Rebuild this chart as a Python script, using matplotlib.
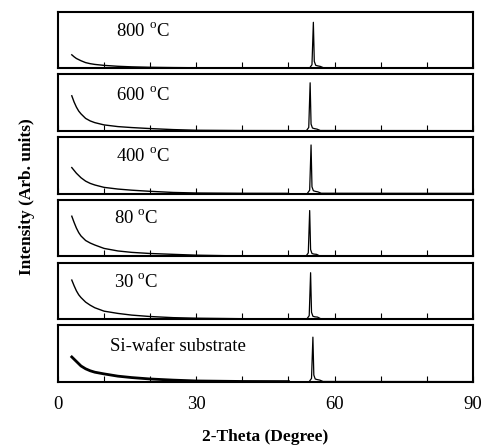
import matplotlib
matplotlib.use("Agg")
import matplotlib.pyplot as plt

plt.rcParams["font.family"] = ["Liberation Serif", "DejaVu Serif"]
plt.rcParams["mathtext.fontset"] = "custom"
plt.rcParams["mathtext.rm"] = "Liberation Serif"

# Panel labels, top to bottom
labels = ["800 $^{\\rm o}$C", "600 $^{\\rm o}$C", "400 $^{\\rm o}$C",
          "80 $^{\\rm o}$C", "30 $^{\\rm o}$C", "Si-wafer substrate"]

# Low-angle background (normalised to panel height)
bg_theta = [3, 3.5, 4, 4.5, 5, 6, 7, 8, 10, 13, 16, 20, 25, 30, 40, 50]
bg_800 = [0.235, 0.20, 0.17, 0.15, 0.13, 0.097, 0.078, 0.065, 0.048, 0.032, 0.022, 0.014, 0.009, 0.006, 0.004, 0.004]
bg_600 = [0.62, 0.51, 0.42, 0.35, 0.30, 0.22, 0.175, 0.145, 0.105, 0.075, 0.058, 0.04, 0.022, 0.01, 0.005, 0.004]
bg_400 = [0.46, 0.41, 0.36, 0.32, 0.28, 0.22, 0.18, 0.152, 0.11, 0.08, 0.06, 0.04, 0.02, 0.01, 0.005, 0.004]
bg_80 = [0.71, 0.60, 0.50, 0.42, 0.36, 0.28, 0.235, 0.20, 0.14, 0.095, 0.07, 0.05, 0.035, 0.02, 0.006, 0.004]
bg_30 = [0.69, 0.59, 0.50, 0.43, 0.38, 0.30, 0.245, 0.20, 0.14, 0.10, 0.07, 0.045, 0.025, 0.015, 0.006, 0.004]
bg_si = [0.44, 0.40, 0.36, 0.32, 0.28, 0.23, 0.195, 0.17, 0.14, 0.10, 0.075, 0.05, 0.03, 0.015, 0.006, 0.004]
backgrounds = [bg_800, bg_600, bg_400, bg_80, bg_30, bg_si]

# Si peak near 55 deg for each panel
pk_theta_800 = [54.6, 55.1, 55.4, 55.6, 55.9, 56.3, 56.9, 57.6, 90]
pk_theta_600 = [53.9, 54.4, 54.7, 54.9, 55.2, 55.6, 56.2, 56.9, 90]
pk_theta_400 = [54.1, 54.6, 54.9, 55.1, 55.4, 55.8, 56.4, 57.1, 90]
pk_theta_80 = [53.8, 54.3, 54.6, 54.8, 55.1, 55.5, 56.1, 56.8, 90]
pk_theta_30 = [54.0, 54.5, 54.8, 55.0, 55.3, 55.7, 56.3, 57.0, 90]
pk_theta_si = [54.5, 55.0, 55.3, 55.5, 55.8, 56.2, 56.8, 57.5, 90]
pk_thetas = [pk_theta_800, pk_theta_600, pk_theta_400, pk_theta_80, pk_theta_30, pk_theta_si]

pk_800 = [0.004, 0.06, 0.81, 0.12, 0.05, 0.04, 0.03, 0.006, 0.004]
pk_600 = [0.004, 0.06, 0.85, 0.12, 0.05, 0.04, 0.03, 0.006, 0.004]
pk_400 = [0.004, 0.06, 0.86, 0.12, 0.05, 0.04, 0.03, 0.006, 0.004]
pk_80 = [0.004, 0.06, 0.81, 0.12, 0.05, 0.04, 0.035, 0.006, 0.004]
pk_30 = [0.004, 0.06, 0.82, 0.12, 0.05, 0.04, 0.035, 0.006, 0.004]
pk_si = [0.004, 0.06, 0.79, 0.12, 0.05, 0.04, 0.03, 0.006, 0.004]
peaks = [pk_800, pk_600, pk_400, pk_80, pk_30, pk_si]

label_x = [0.14, 0.14, 0.14, 0.135, 0.135, 0.125]
label_y = [0.65, 0.64, 0.66, 0.67, 0.65, 0.63]

xticks = [0, 10, 20, 30, 40, 50, 60, 70, 80, 90]
xticklabels = ["0", "", "", "30", "", "", "60", "", "", "90"]

fig, axes = plt.subplots(6, 1, figsize=(4.87, 4.45), dpi=100, sharex=True)
fig.subplots_adjust(left=0.119, right=0.971, top=0.974, bottom=0.142, hspace=0.11)

for i, ax in enumerate(axes):
    lw_bg = 2.0 if i == 5 else 1.0
    ax.plot(bg_theta, backgrounds[i], color="black", lw=lw_bg)
    ax.plot(pk_thetas[i], peaks[i], color="black", lw=0.9)
    ax.set_xlim(0, 90)
    ax.set_ylim(0, 1)
    ax.set_yticks([])
    ax.set_xticks(xticks)
    ax.tick_params(axis="x", direction="in", length=4, width=0.8, pad=10, labelsize=13.5)
    for s in ax.spines.values():
        s.set_linewidth(1.5)
    ax.text(label_x[i], label_y[i], labels[i], transform=ax.transAxes,
            ha="left", va="center", fontsize=13.5)

axes[-1].set_xticklabels(xticklabels)
fig.supxlabel("2-Theta (Degree)", x=0.545, y=0.0, fontsize=12.5, fontweight="bold", va="bottom")
fig.text(0.055, 0.558, "Intensity (Arb. units)", rotation=90, ha="center", va="center",
         fontsize=12.5, fontweight="bold")

fig.savefig("out.png", dpi=100)
